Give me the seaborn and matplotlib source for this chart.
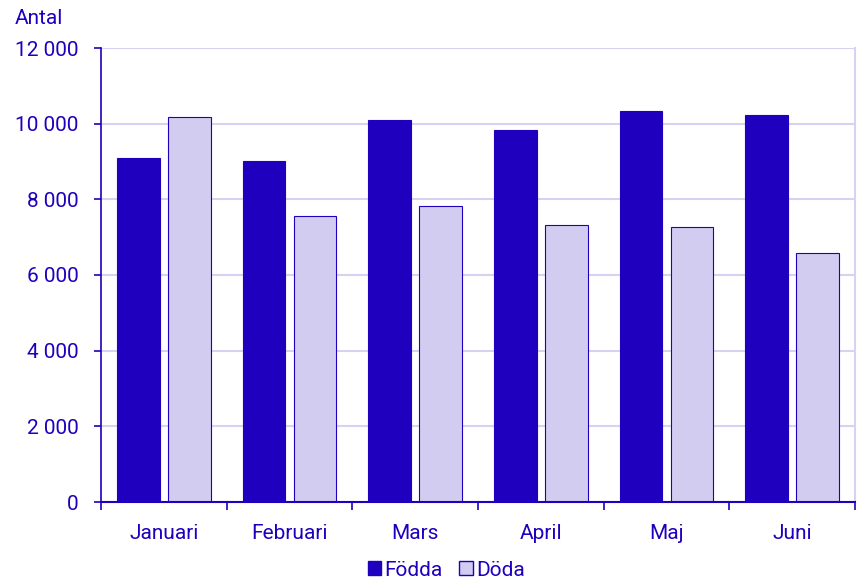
import pandas as pd
import matplotlib.pyplot as plt
import seaborn as sns
from matplotlib.ticker import FuncFormatter
from matplotlib.patches import Patch

# Data
manader = ["Januari", "Februari", "Mars", "April", "Maj", "Juni"]
fodda = [9090, 9005, 10090, 9845, 10345, 10230]
doda = [10180, 7565, 7820, 7315, 7265, 6585]
serier = ["Födda", "Döda"]

blue = "#1E00BE"
light = "#D2CDF0"
grid = "#D4D4F2"

df = pd.DataFrame({
    "Månad": manader * 2,
    "Serie": [serier[0]] * len(manader) + [serier[1]] * len(manader),
    "Antal": fodda + doda,
})

sns.set_theme(style="white")
plt.rcParams["font.family"] = ["Roboto", "DejaVu Sans"]
fs = 15

fig = plt.figure(figsize=(8.63, 5.8), dpi=100)
ax = fig.add_axes([101 / 863, 1 - 502 / 580, (855 - 101) / 863, (502 - 48) / 580])

sns.barplot(data=df, x="Månad", y="Antal", hue="Serie", palette=[blue, light],
            saturation=1, width=0.81, gap=0.16, edgecolor=blue, linewidth=0.8,
            ax=ax, legend=False)

ax.set_ylim(0, 12000)
ax.set_xlim(-0.5, len(manader) - 0.5)
ax.set_yticks(range(0, 12001, 2000))
ax.yaxis.set_major_formatter(FuncFormatter(lambda v, p: f"{int(v):,}".replace(",", " ")))
# tick marks between categories, labels at the centres
ax.set_xticks([i + 0.5 for i in range(-1, len(manader))])
ax.set_xticklabels([])
ax.set_xticks(range(len(manader)), minor=True)
ax.set_xticklabels(manader, minor=True)

ax.grid(axis="y", color=grid, linewidth=1.5)
ax.set_axisbelow(True)
ax.spines["top"].set_visible(False)
ax.spines["right"].set_color(grid)
ax.spines["right"].set_linewidth(1.5)
ax.spines["left"].set_color(blue)
ax.spines["bottom"].set_color(blue)
ax.spines["left"].set_linewidth(1.2)
ax.spines["bottom"].set_linewidth(1.5)

ax.tick_params(axis="y", which="major", direction="out", length=5, width=1.2,
               color=blue, labelcolor=blue, labelsize=fs, left=True, pad=11)
ax.tick_params(axis="x", which="major", direction="out", length=6, width=1.2,
               color=blue, bottom=True)
ax.tick_params(axis="x", which="minor", length=0, labelcolor=blue,
               labelsize=fs, pad=16)
ax.set_xlabel("")
ax.set_ylabel("")

fig.text(15 / 863, 1 - 18 / 580, "Antal", color=blue, fontsize=fs, va="center")

handles = [Patch(facecolor=blue, edgecolor=blue), Patch(facecolor=light, edgecolor=blue)]
fig.legend(handles, serier, loc="center", bbox_to_anchor=(0.517, 1 - 570 / 580),
           ncol=2, frameon=False, fontsize=fs, labelcolor=blue,
           handlelength=0.65, handleheight=0.65, handletextpad=0.15, columnspacing=0.8,
           borderpad=0)

fig.savefig("out.png", dpi=100)
